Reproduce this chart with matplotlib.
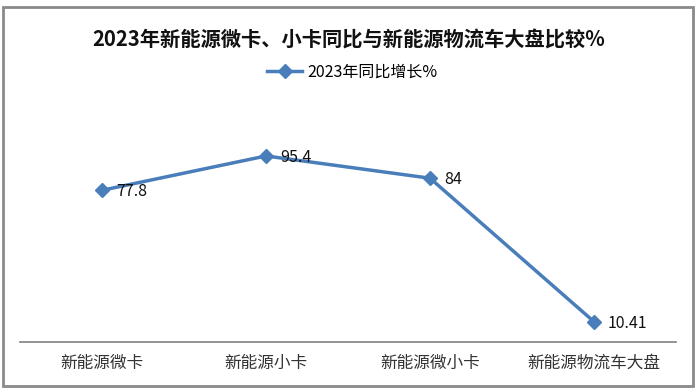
import matplotlib.pyplot as plt
from matplotlib.patches import Rectangle

plt.rcParams['font.family'] = ['Noto Sans CJK SC', 'DejaVu Sans']

# Chart data
categories = ['新能源微卡', '新能源小卡', '新能源微小卡', '新能源物流车大盘']
growth = [77.8, 95.4, 84, 10.41]
value_labels = ['77.8', '95.4', '84', '10.41']
series_name = '2023年同比增长%'
title = '2023年新能源微卡、小卡同比与新能源物流车大盘比较%'

W, H = 699, 391
fig = plt.figure(figsize=(W / 100, H / 100), dpi=100)
ax = fig.add_axes([20 / W, 49 / H, 656 / W, 234 / H])

line_color = '#4A7EBB'
x = range(len(categories))
ax.plot(x, growth, color=line_color, linewidth=2.5, marker='D', markersize=7,
        label=series_name)

for xi, yi, lab in zip(x, growth, value_labels):
    ax.annotate(lab, (xi, yi), xytext=(10, -1), textcoords='offset points',
                fontsize=11.5, color='#111111', va='center', ha='left')

ax.set_xlim(-0.5, len(categories) - 0.5)
ax.set_ylim(0, 120)
ax.set_xticks(list(x))
ax.set_xticklabels(categories, fontsize=12, color='#333333')
ax.tick_params(axis='x', length=0, pad=9)
ax.set_yticks([])
for side in ['top', 'right', 'left']:
    ax.spines[side].set_visible(False)
ax.spines['bottom'].set_color('#808080')
ax.spines['bottom'].set_linewidth(1.2)

fig.text(349 / W, 1 - 40 / H, title, ha='center', va='center',
         fontsize=14.6, fontweight='bold', color='#111111')

fig.legend(loc='center', bbox_to_anchor=(352 / W, 1 - 72 / H), frameon=False,
           fontsize=11.5, handlelength=2.2, handletextpad=0.3)

# outer border of the chart
fig.patches.append(Rectangle((3 / W, 1 - 386 / H), 690 / W, 379 / H,
                             transform=fig.transFigure, fill=False,
                             edgecolor='#8a8a8a', linewidth=2))

fig.savefig('out.png', dpi=100)
